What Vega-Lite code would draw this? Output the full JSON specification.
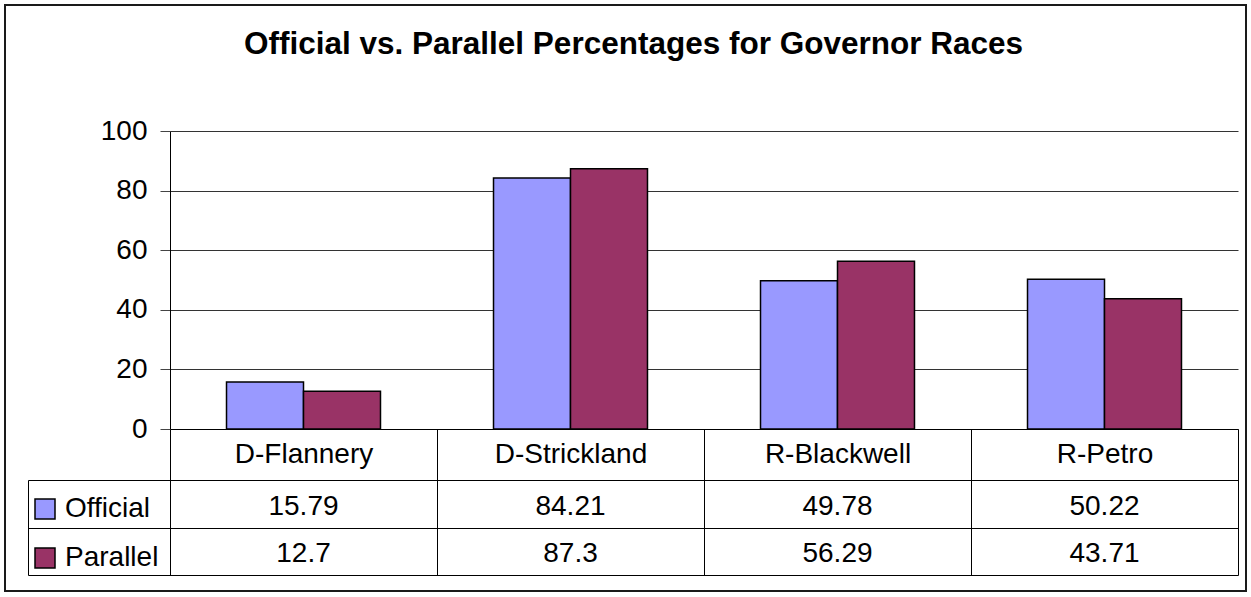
{
  "$schema": "https://vega.github.io/schema/vega-lite/v6.json",
  "width": 1241,
  "height": 586,
  "autosize": {"type": "none"},
  "padding": {"left": 5, "top": 5, "right": 5, "bottom": 6},
  "background": "white",
  "title": {
    "text": "Official vs. Parallel Percentages for Governor Races",
    "frame": "group",
    "anchor": "middle",
    "baseline": "alphabetic",
    "offset": -80,
    "dx": 8,
    "fontSize": 31.5,
    "fontWeight": "bold",
    "font": "Liberation Sans",
    "color": "#000"
  },
  "data": {
    "values": [
      {"candidate": "D-Flannery", "series": "Official", "value": 15.79},
      {"candidate": "D-Flannery", "series": "Parallel", "value": 12.7},
      {"candidate": "D-Strickland", "series": "Official", "value": 84.21},
      {"candidate": "D-Strickland", "series": "Parallel", "value": 87.3},
      {"candidate": "R-Blackwell", "series": "Official", "value": 49.78},
      {"candidate": "R-Blackwell", "series": "Parallel", "value": 56.29},
      {"candidate": "R-Petro", "series": "Official", "value": 50.22},
      {"candidate": "R-Petro", "series": "Parallel", "value": 43.71}
    ]
  },
  "encoding": {
    "x": {
      "field": "candidate",
      "type": "nominal",
      "scale": {
        "domain": ["D-Flannery", "D-Strickland", "R-Blackwell", "R-Petro"],
        "range": [165, 1233],
        "paddingInner": 0,
        "paddingOuter": 0
      },
      "axis": {
        "orient": "bottom",
        "offset": -162,
        "tickBand": "extent",
        "tickSize": 146,
        "tickColor": "#000",
        "tickWidth": 1,
        "domain": true,
        "domainColor": "#000",
        "labelPadding": -113,
        "labelBaseline": "alphabetic",
        "labelAngle": 0,
        "labelFontSize": 28,
        "labelFont": "Liberation Sans",
        "labelColor": "#000",
        "grid": false,
        "title": null
      }
    }
  },
  "layer": [
    {
      "mark": {"type": "bar", "stroke": "#000", "strokeWidth": 1.5},
      "encoding": {
        "xOffset": {
          "field": "series",
          "type": "nominal",
          "scale": {"domain": ["Official", "Parallel"], "paddingInner": 0, "paddingOuter": 0.734}
        },
        "y": {
          "field": "value",
          "type": "quantitative",
          "scale": {"domain": [0, 100], "range": [424, 126], "nice": false},
          "axis": {
            "orient": "left",
            "offset": -165,
            "values": [0, 20, 40, 60, 80, 100],
            "tickSize": 10,
            "tickColor": "#444",
            "domain": true,
            "domainColor": "#000",
            "grid": true,
            "gridColor": "#333",
            "gridWidth": 1,
            "labelPadding": 13,
            "labelFontSize": 28,
            "labelFont": "Liberation Sans",
            "labelColor": "#000",
            "title": null
          }
        },
        "color": {
          "field": "series",
          "type": "nominal",
          "scale": {"domain": ["Official", "Parallel"], "range": ["#9999FF", "#993366"]},
          "legend": {
            "orient": "none",
            "legendX": 26,
            "legendY": 490,
            "title": null,
            "padding": 0,
            "symbolType": "square",
            "symbolSize": 400,
            "symbolStrokeColor": "#000",
            "symbolStrokeWidth": 1.5,
            "symbolOpacity": 1,
            "labelFontSize": 28,
            "labelFont": "Liberation Sans",
            "labelColor": "#000",
            "labelOffset": 6,
            "rowPadding": 21
          }
        }
      }
    },
    {
      "mark": {"type": "text", "fontSize": 28, "font": "Liberation Sans", "color": "#000", "align": "center", "baseline": "alphabetic", "dy": 11},
      "encoding": {
        "y": {
          "field": "series",
          "type": "nominal",
          "scale": {"domain": ["Official", "Parallel"], "range": [475, 570], "paddingInner": 0, "paddingOuter": 0},
          "axis": {
            "orient": "left",
            "offset": -23,
            "tickBand": "extent",
            "tickSize": -1210,
            "tickColor": "#000",
            "domain": true,
            "domainColor": "#000",
            "labels": false,
            "grid": false,
            "title": null
          }
        },
        "text": {"field": "value", "type": "quantitative", "format": ""}
      }
    }
  ],
  "resolve": {"scale": {"y": "independent"}, "axis": {"y": "independent"}},
  "config": {
    "font": "Liberation Sans",
    "view": {"stroke": "#1a1a1a", "strokeWidth": 2}
  }
}
